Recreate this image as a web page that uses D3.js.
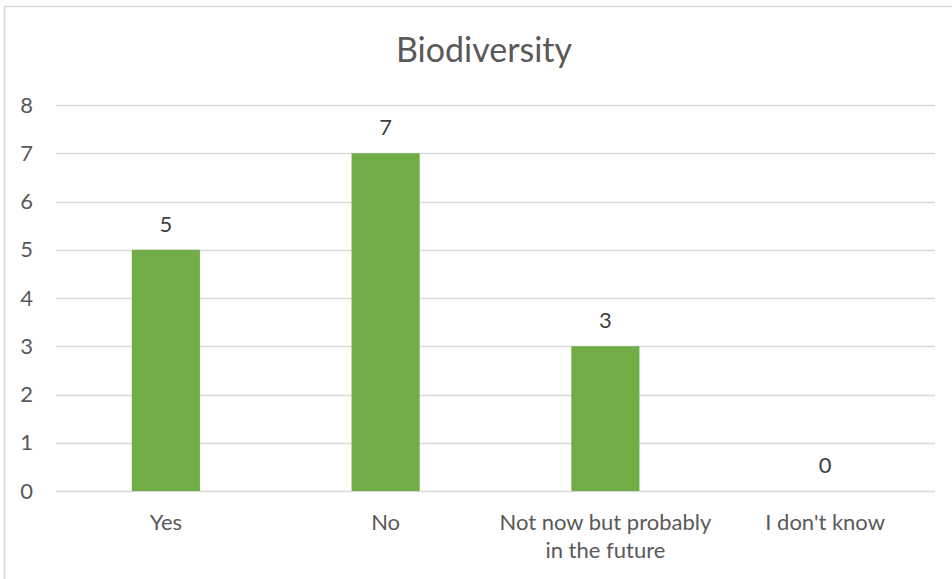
<!DOCTYPE html>
<html>
<head>
<meta charset="utf-8">
<script src="https://cdn.jsdelivr.net/npm/d3@7"></script>
<style>
  html, body { margin: 0; padding: 0; background: #fff; }
  svg { display: block; font-family: Lato, "Open Sans", sans-serif; }
</style>
</head>
<body>
<svg id="chart" width="952" height="579"></svg>
<script>
// Survey answers for the "Biodiversity" question
const title = "Biodiversity";
const categories = ["Yes", "No", "Not now but probably in the future", "I don't know"];
const counts = [5, 7, 3, 0];
const yTicks = [0, 1, 2, 3, 4, 5, 6, 7, 8];

const svg = d3.select("#chart");
const W = 952, H = 579;
const plot = { left: 56, right: 935, top: 105, bottom: 491 };

const barColor = "#70AD47";
const gridColor = "#D9D9D9";
const axisText = "#595959";
const labelText = "#404040";
const fontSize = 22;

// chart frame
svg.append("rect")
  .attr("x", 4.5).attr("y", 6.5)
  .attr("width", W + 20).attr("height", H + 20)
  .attr("fill", "#fff")
  .attr("stroke", gridColor).attr("stroke-width", 1.5);

const x = d3.scaleBand().domain(categories).range([plot.left, plot.right]).padding(0);
const y = d3.scaleLinear().domain([0, 8]).range([plot.bottom, plot.top]);

// horizontal gridlines
svg.append("g").selectAll("line")
  .data(yTicks)
  .join("line")
  .attr("x1", plot.left).attr("x2", plot.right)
  .attr("y1", d => Math.round(y(d)) + 0.5).attr("y2", d => Math.round(y(d)) + 0.5)
  .attr("stroke", gridColor).attr("stroke-width", 1.5);

// value axis labels
const yAxis = d3.axisLeft(y).tickValues(yTicks).tickSize(0).tickPadding(23);
const yg = svg.append("g").attr("transform", `translate(${plot.left},0)`).call(yAxis);
yg.select(".domain").remove();
yg.selectAll("text")
  .attr("fill", axisText)
  .style("font-size", fontSize + "px")
  .style("font-family", "Lato, 'Open Sans', sans-serif");

// bars
const barW = x.bandwidth() * 0.31;
svg.append("g").selectAll("rect")
  .data(categories.map((c, i) => ({ c, v: counts[i] })))
  .join("rect")
  .attr("x", d => x(d.c) + (x.bandwidth() - barW) / 2)
  .attr("width", barW)
  .attr("y", d => y(d.v))
  .attr("height", d => y(0) - y(d.v))
  .attr("fill", barColor);

// value labels above bars
svg.append("g").selectAll("text")
  .data(categories.map((c, i) => ({ c, v: counts[i] })))
  .join("text")
  .attr("x", d => x(d.c) + x.bandwidth() / 2)
  .attr("y", d => y(d.v) - 18)
  .attr("text-anchor", "middle")
  .attr("fill", labelText)
  .style("font-size", fontSize + "px")
  .text(d => d.v);

// category labels, wrapped to the band width
const catG = svg.append("g");
categories.forEach(c => {
  const cx = x(c) + x.bandwidth() / 2;
  const t = catG.append("text")
    .attr("x", cx)
    .attr("y", 530)
    .attr("text-anchor", "middle")
    .attr("fill", axisText)
    .style("font-size", fontSize + "px");
  const words = c.split(" ");
  let line = [];
  let span = t.append("tspan").attr("x", cx).attr("dy", 0);
  words.forEach(w => {
    line.push(w);
    span.text(line.join(" "));
    if (span.node().getComputedTextLength() > x.bandwidth() && line.length > 1) {
      line.pop();
      span.text(line.join(" "));
      line = [w];
      span = t.append("tspan").attr("x", cx).attr("dy", 28).text(w);
    }
  });
});

// title
svg.append("text")
  .attr("x", 484).attr("y", 62)
  .attr("text-anchor", "middle")
  .attr("fill", axisText)
  .style("font-size", "34px")
  .text(title);
</script>
</body>
</html>
